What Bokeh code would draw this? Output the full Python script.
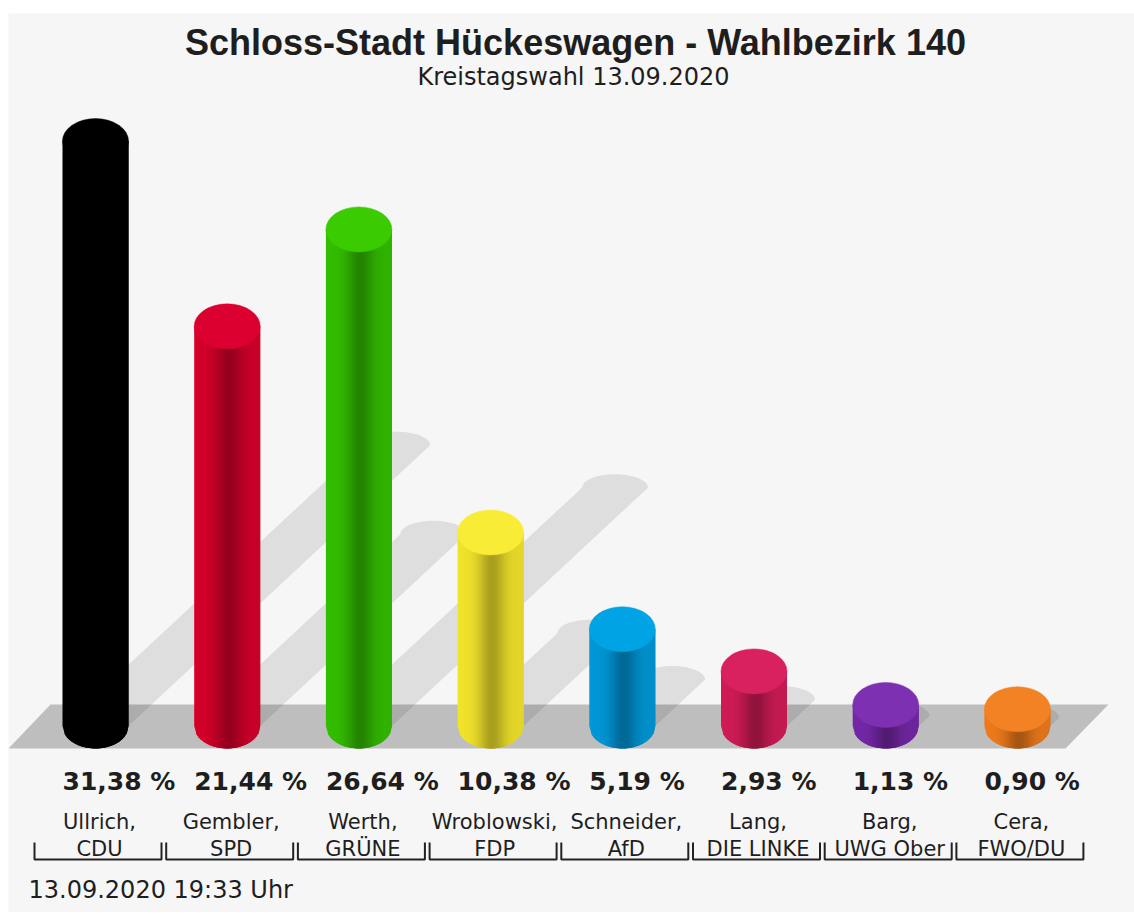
import numpy as np
from bokeh.plotting import figure
from bokeh.models import Range1d
from bokeh.core.properties import value
from bokeh.embed import file_html
from bokeh.resources import INLINE

# ---------------- data ----------------
title = "Schloss-Stadt Hückeswagen - Wahlbezirk 140"
subtitle = "Kreistagswahl 13.09.2020"
footer = "13.09.2020 19:33 Uhr"
candidates = ["Ullrich,", "Gembler,", "Werth,", "Wroblowski,", "Schneider,",
              "Lang,", "Barg,", "Cera,"]
parties = ["CDU", "SPD", "GRÜNE", "FDP", "AfD", "DIE LINKE", "UWG Ober", "FWO/DU"]
percent = [31.38, 21.44, 26.64, 10.38, 5.19, 2.93, 1.13, 0.90]
body_colors = ["#000000", "#d4002a", "#33be00", "#f2e42c", "#0098d8",
               "#d01c56", "#7428a6", "#ee7b1c"]
cap_colors = ["#000000", "#dc0030", "#3acb00", "#f8ec36", "#00a3e3",
              "#d8215e", "#7e30b2", "#f28224"]
percent_labels = [("%.2f" % v).replace(".", ",") + " %" for v in percent]

# ---------------- geometry (pixel scale of the value axes) ----------------
LEFT, TOP = 8, 13
W, H = 1134, 912
PX = 131.7           # pixels per category step
PY = 18.64           # pixels per percent
X0_PAGE, BASE_PAGE = 95.0, 725.5
FRAME_W, FRAME_H = W - LEFT, H - TOP

x_start = -(X0_PAGE - LEFT) / PX
x_end = x_start + FRAME_W / PX
y_end = (BASE_PAGE - TOP) / PY
y_start = y_end - FRAME_H / PY


def dx(px):
    return (px - X0_PAGE) / PX


def dy(py):
    return (BASE_PAGE - py) / PY


HW = 33.0 / PX        # half bar width
B = 22.5 / PY         # half height of the ellipse caps

p = figure(width=W, height=H, x_range=Range1d(x_start, x_end),
           y_range=Range1d(y_start, y_end), output_backend="svg",
           toolbar_location=None, x_axis_location=None, y_axis_location=None,
           min_border_left=LEFT, min_border_right=0, min_border_bottom=0,
           min_border_top=TOP, border_fill_color="white",
           background_fill_color="#f6f6f6", outline_line_color=None)
p.grid.visible = False

idx = np.arange(len(percent))

# floor
p.patch([dx(8), dx(1065), dx(1108), dx(50)], [dy(748), dy(748), dy(704), dy(704)],
        fill_color="#bebebe", line_color=None)

# shadows
SX, SY = 0.073, 0.48
sh_x, sh_y = [], []
for i, v in zip(idx, percent):
    cx, cy = i + SX * v, SY * v
    ang = np.linspace(np.pi, 0, 24)
    xs = [i - HW] + list(cx + HW * np.cos(ang)) + [i + HW]
    ys = [0.0] + list(cy + 0.6 * B * np.sin(ang)) + [0.0]
    sh_x.append(xs)
    sh_y.append(ys)
p.patches(sh_x, sh_y, fill_color="black", fill_alpha=0.095, line_color=None)


def shade(hexcol, f):
    h = hexcol.lstrip("#")
    r, g, b = (int(h[k:k + 2], 16) for k in (0, 2, 4))
    return "#%02x%02x%02x" % (int(r * f), int(g * f), int(b * f))


def ell(u):
    return -B * np.sqrt(max(0.0, 1 - u ** 2))


# cylinder bodies as shaded, overlapping stripes (drawn left to right)
N = 30
du = 2.0 / N
st_x, st_y, st_c = [], [], []
for i, v, col in zip(idx, percent, body_colors):
    for k in range(N):
        u0 = -1 + k * du
        u1 = min(1.0, u0 + 2.2 * du)
        t = (u0 + du / 2 + 1) / 2
        f = 1 - 0.27 * np.exp(-((t - 0.52) / 0.2) ** 2) - 0.06 * t
        um = (u0 + u1) / 2
        st_x.append([i + u0 * HW, i + u1 * HW, i + u1 * HW, i + um * HW, i + u0 * HW])
        st_y.append([v, v, ell(u1), ell(um), ell(u0)])
        st_c.append(shade(col, f))
p.patches(st_x, st_y, fill_color=st_c, line_color=None)

# top caps
p.ellipse(x=idx, y=percent, width=2 * HW, height=2 * B,
          fill_color=cap_colors, line_color=cap_colors, line_width=0.5)

# texts (y given as the wanted baseline, corrected for bokeh's baseline placement)
txt = "#1e1e1e"
p.text(x=[dx(575)], y=[dy(53 - 11)], text=[title], text_align="center",
       text_baseline="alphabetic", text_font=value("Liberation Sans"),
       text_font_style="bold", text_font_size="36px", text_color=txt)
p.text(x=[dx(573)], y=[dy(84 - 8)], text=[subtitle], text_align="center",
       text_baseline="alphabetic", text_font=value("DejaVu Sans"),
       text_font_size="24px", text_color=txt)
p.text(x=idx - HW, y=[dy(789 - 8.5)] * len(idx), text=percent_labels,
       text_align="left", text_baseline="alphabetic",
       text_font=value("DejaVu Sans"), text_font_style="bold",
       text_font_size="25px", text_color=txt)
p.text(x=idx + 4 / PX, y=[dy(829 - 7.5)] * len(idx), text=candidates,
       text_align="center", text_baseline="alphabetic",
       text_font=value("DejaVu Sans"), text_font_size="21px", text_color=txt)
p.text(x=idx + 4 / PX, y=[dy(856 - 7.5)] * len(idx), text=parties,
       text_align="center", text_baseline="alphabetic",
       text_font=value("DejaVu Sans"), text_font_size="21px", text_color=txt)
p.text(x=[dx(28)], y=[dy(897 - 8)], text=[footer], text_align="left",
       text_baseline="alphabetic", text_font=value("DejaVu Sans"),
       text_font_size="24px", text_color=txt)

# category brackets
br_x = [[i - 61 / PX, i - 61 / PX, i + 66 / PX, i + 66 / PX] for i in idx]
br_y = [[dy(842), dy(859), dy(859), dy(842)] for _ in idx]
p.multi_line(br_x, br_y, line_color="#222222", line_width=2)

open("out.html", "w").write(file_html(p, INLINE, title="Wahlbezirk 140"))
